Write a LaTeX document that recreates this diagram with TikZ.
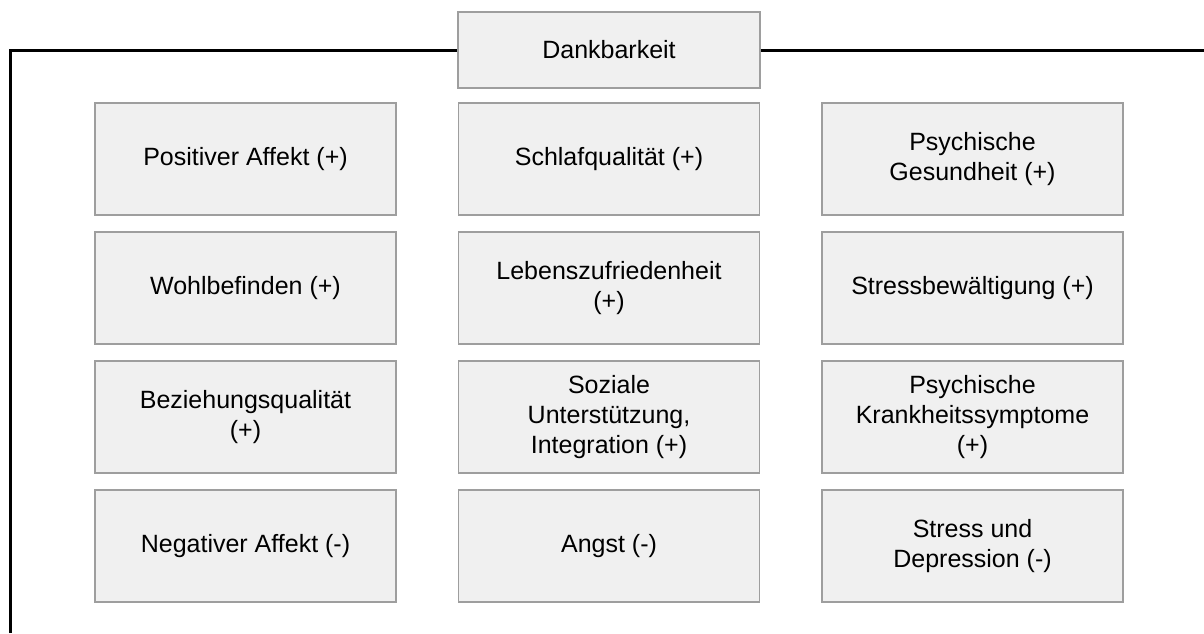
\documentclass[tikz,border=0pt]{standalone}
\usepackage{fontspec}
\setmainfont{Liberation Sans}
\definecolor{boxfill}{HTML}{F0F0F0}
\definecolor{boxline}{HTML}{9E9E9E}
\tikzset{
  feld/.style={draw=boxline, fill=boxfill, line width=0.6pt, minimum width=150.5pt,
    minimum height=56pt, align=center, inner sep=0pt,
    font=\fontsize{12.5}{15}\selectfont},
  klammer/.style={line width=1.5pt, black}
}
\begin{document}
\begin{tikzpicture}[x=0.5pt,y=-0.5pt]
    \useasboundingbox (0,0) rectangle (1204,633);
    \node [feld, minimum width=151pt, minimum height=38pt] (dank) at (609, 50) {Dankbarkeit};
    \coordinate (links) at (10, 50);
    \coordinate (unten) at (10, 633);
    \coordinate (rechts) at (1204, 50);
    \draw[klammer] (unten) -- (links) -- (dank.west);
    \draw[klammer] (dank.east) -- (rechts);
    % erste Zeile
    \node [feld] (posaff) at (245.5, 159) {Positiver Affekt (+)};
    \node [feld] (schlaf) at (609, 159) {Schlafqualität (+)};
    \node [feld] (psygesund) at (972.5, 159) {Psychische\\Gesundheit (+)};
    % zweite Zeile
    \node [feld] (wohl) at (245.5, 288) {Wohlbefinden (+)};
    \node [feld] (leben) at (609, 288) {Lebenszufriedenheit\\(+)};
    \node [feld] (stressbew) at (972.5, 288) {Stressbewältigung (+)};
    % dritte Zeile
    \node [feld] (bezieh) at (245.5, 417) {Beziehungsqualität\\(+)};
    \node [feld] (sozial) at (609, 417) {Soziale\\Unterstützung,\\Integration (+)};
    \node [feld] (krank) at (972.5, 417) {Psychische\\Krankheitssymptome\\(+)};
    % vierte Zeile
    \node [feld] (negaff) at (245.5, 546) {Negativer Affekt (-)};
    \node [feld] (angst) at (609, 546) {Angst (-)};
    \node [feld] (depr) at (972.5, 546) {Stress und\\Depression (-)};
\end{tikzpicture}
\end{document}
